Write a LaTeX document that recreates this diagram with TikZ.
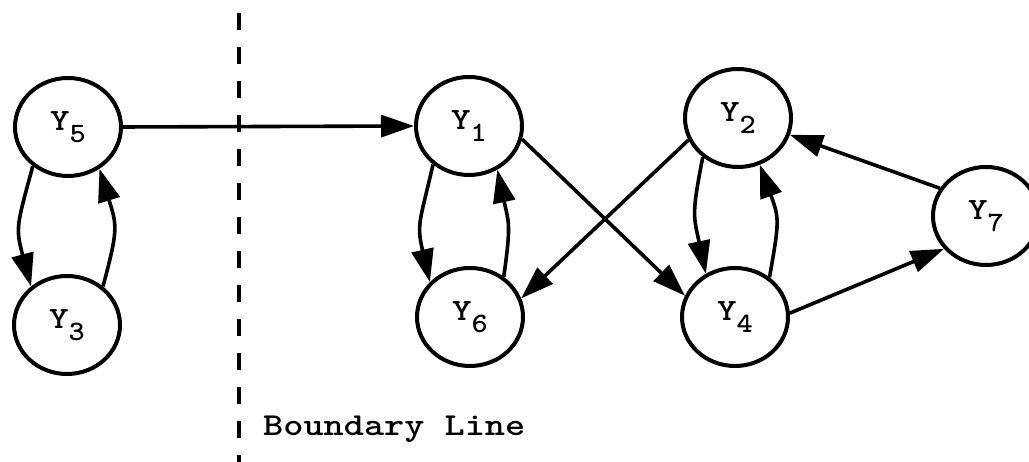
\documentclass[tikz,border=0pt]{standalone}
\usetikzlibrary{shapes.geometric,arrows.meta}
\newcommand{\ylab}[1]{\scalebox{1.2}[1]{\ttfamily\bfseries\fontsize{31}{31}\selectfont Y}\raisebox{-12pt}{\scalebox{1.1}[1]{\ttfamily\bfseries\fontsize{28}{28}\selectfont #1}}}
\begin{document}
\begin{tikzpicture}[x=1pt,y=1pt,
  vnode/.style={ellipse, draw, line width=4pt, minimum width=106pt, minimum height=98pt, inner sep=0pt},
  conn/.style={line width=3.6pt, -{Triangle[length=33pt,width=22pt]}},
  curvconn/.style={conn, looseness=1.3}]
\clip (0,0) rectangle (1029,462);
\node[vnode] (Y5) at (68,335) {\ylab{5}};
\node[vnode] (Y3) at (67,137) {\ylab{3}};
\node[vnode] (Y1) at (469,336) {\ylab{1}};
\node[vnode] (Y6) at (470,145) {\ylab{6}};
\node[vnode] (Y2) at (738,344) {\ylab{2}};
\node[vnode] (Y4) at (735,145) {\ylab{4}};
\node[vnode] (Y7) at (986,246) {\ylab{7}};
\coordinate (btop) at (239,449);
\coordinate (bbot) at (239,0);
\draw[line width=3.6pt, dash pattern=on 17pt off 17pt] (btop) -- (bbot);
\node[anchor=base west, inner sep=0pt] (blab) at (263,26) {\scalebox{1.2}[1]{\ttfamily\bfseries\fontsize{32}{32}\selectfont Boundary Line}};
\draw[conn] (Y5.east) -- (Y1.west);
\draw[curvconn] (Y5.228) to[out=255,in=105] (Y3.133);
\draw[curvconn] (Y3.47) to[out=75,in=287] (Y5.307);
\draw[curvconn] (Y1.227) to[out=257,in=103] (Y6.139);
\draw[curvconn] (Y6.50) to[out=82,in=282] (Y1.303);
\draw[curvconn] (Y2.228) to[out=259,in=102] (Y4.124);
\draw[curvconn] (Y4.49) to[out=80,in=290] (Y2.295);
\draw[conn] (Y1.-14) -- (Y4.157);
\draw[conn] (Y2.204) -- (Y6.20);
\draw[conn] (Y7.149) -- (Y2.-18);
\draw[conn] (Y4.4) -- (Y7.218);
\end{tikzpicture}
\end{document}
